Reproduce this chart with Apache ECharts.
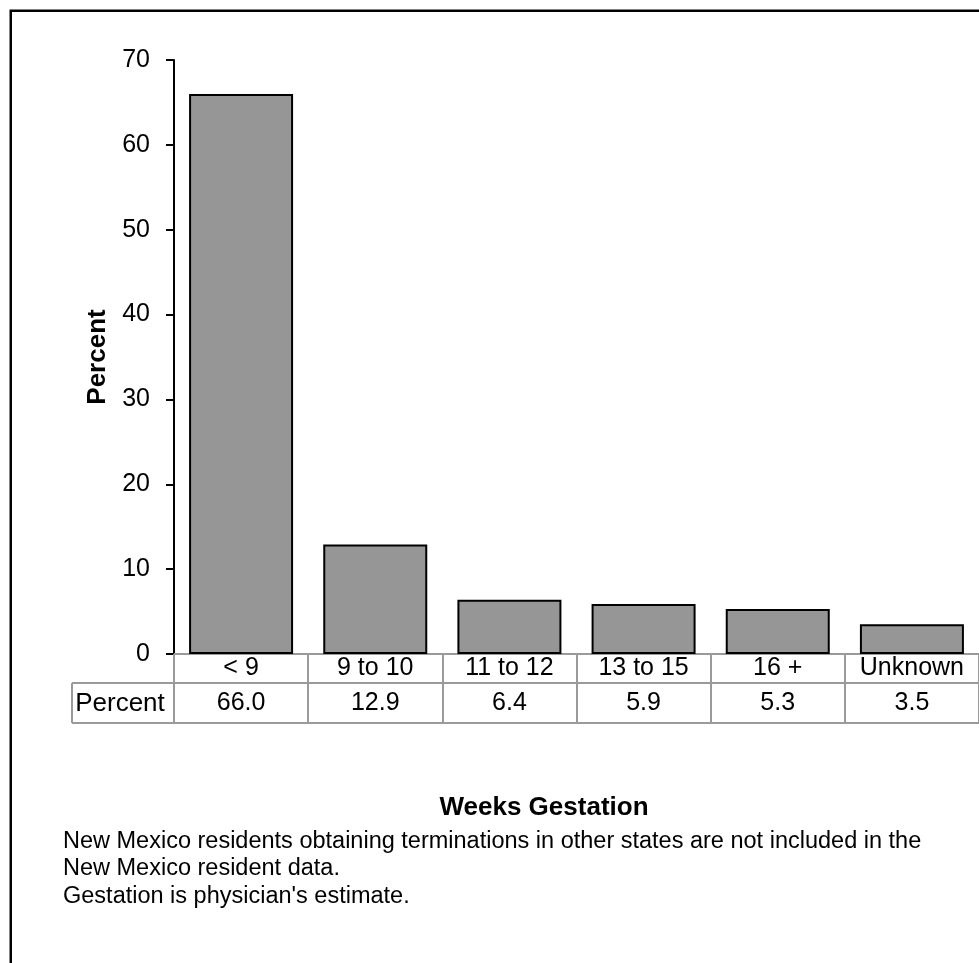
<!DOCTYPE html>
<html>
<head>
<meta charset="utf-8">
<script src="https://cdn.jsdelivr.net/npm/echarts@6/dist/echarts.min.js"></script>
<style>
html,body{margin:0;padding:0;background:#fff;}
#chart{width:979px;height:963px;}
</style>
</head>
<body>
<div id="chart"></div>
<script>
// Data
const categories = ['< 9', '9 to 10', '11 to 12', '13 to 15', '16 +', 'Unknown'];
const percentValues = [66.0, 12.9, 6.4, 5.9, 5.3, 3.5];
const yTicks = { min: 0, max: 70, interval: 10 };
const yAxisTitle = 'Percent';
const xAxisTitle = 'Weeks Gestation';
const tableRowHeader = 'Percent';
const notes = [
  'New Mexico residents obtaining terminations in other states are not included in the',
  'New Mexico resident data.',
  "Gestation is physician's estimate."
];

const FONT = "'Liberation Sans', Arial, sans-serif";
const GRAY = '#9a9a9a';

const chart = echarts.init(document.getElementById('chart'), null, { renderer: 'canvas' });

const gridLeft = 174, gridTop = 60, gridW = 808, gridH = 594;
const row1 = gridTop + gridH;   // 654
const row2 = row1 + 29;         // 683
const row3 = row2 + 40;         // 723

const option = {
  backgroundColor: '#fff',
  animation: false,
  grid: { left: gridLeft, top: gridTop, width: gridW, height: gridH, containLabel: false },
  xAxis: [
    {
      type: 'category',
      data: categories,
      position: 'bottom',
      boundaryGap: true,
      axisLine: { show: true, lineStyle: { color: GRAY, width: 2 } },
      axisTick: { show: true, interval: 0, length: row3 - row1, lineStyle: { color: GRAY, width: 2 } },
      axisLabel: { show: true, interval: 0, margin: 2, fontFamily: FONT, fontSize: 25, lineHeight: 25, color: '#000' },
      splitLine: { show: false }
    },
    {
      type: 'category',
      data: percentValues.map(v => v.toFixed(1)),
      position: 'bottom',
      offset: row2 - row1,
      boundaryGap: true,
      axisLine: { show: true, lineStyle: { color: GRAY, width: 2 } },
      axisTick: { show: false },
      axisLabel: { show: true, interval: 0, margin: 8, fontFamily: FONT, fontSize: 25, lineHeight: 25, color: '#000' },
      splitLine: { show: false }
    },
    {
      type: 'category',
      data: categories,
      position: 'bottom',
      offset: row3 - row1,
      boundaryGap: true,
      axisLine: { show: true, lineStyle: { color: GRAY, width: 2 } },
      axisTick: { show: false },
      axisLabel: { show: false },
      splitLine: { show: false }
    }
  ],
  yAxis: {
    type: 'value',
    min: yTicks.min,
    max: yTicks.max,
    interval: yTicks.interval,
    name: yAxisTitle,
    nameLocation: 'middle',
    nameGap: 61,
    nameTextStyle: { fontFamily: FONT, fontSize: 26, fontWeight: 'bold', color: '#000' },
    axisLine: { show: true, lineStyle: { color: '#000', width: 2 } },
    axisTick: { show: true, length: 8, lineStyle: { color: '#000', width: 2 } },
    axisLabel: { margin: 24, fontFamily: FONT, fontSize: 25, color: '#000' },
    splitLine: { show: false }
  },
  series: [
    {
      type: 'bar',
      xAxisIndex: 0,
      data: percentValues,
      barWidth: 104,
      itemStyle: { color: '#969696', borderColor: '#000', borderWidth: 2 },
      label: { show: false }
    }
  ],
  graphic: [
    { type: 'rect', shape: { x: 10.75, y: 10.75, width: 1100, height: 1100 }, style: { fill: 'none', stroke: '#000', lineWidth: 2.5 }, silent: true },
    { type: 'line', shape: { x1: 72, y1: row2, x2: gridLeft, y2: row2 }, style: { stroke: GRAY, lineWidth: 2 } },
    { type: 'line', shape: { x1: 72, y1: row3, x2: gridLeft, y2: row3 }, style: { stroke: GRAY, lineWidth: 2 } },
    { type: 'line', shape: { x1: 72, y1: row2, x2: 72, y2: row3 }, style: { stroke: GRAY, lineWidth: 2 } },
    { type: 'text', x: 120, y: 704, style: { text: tableRowHeader, font: '26px ' + FONT, fill: '#000', textAlign: 'center', textVerticalAlign: 'middle' } },
    { type: 'text', x: 544, y: 808, style: { text: xAxisTitle, font: 'bold 26px ' + FONT, fill: '#000', textAlign: 'center', textVerticalAlign: 'middle' } },
    { type: 'text', x: 63, y: 842, style: { text: notes[0], font: '23.5px ' + FONT, fill: '#000', textAlign: 'left', textVerticalAlign: 'middle' } },
    { type: 'text', x: 63, y: 869, style: { text: notes[1], font: '23.5px ' + FONT, fill: '#000', textAlign: 'left', textVerticalAlign: 'middle' } },
    { type: 'text', x: 63, y: 897, style: { text: notes[2], font: '23.5px ' + FONT, fill: '#000', textAlign: 'left', textVerticalAlign: 'middle' } }
  ]
};

chart.setOption(option);
</script>
</body>
</html>
